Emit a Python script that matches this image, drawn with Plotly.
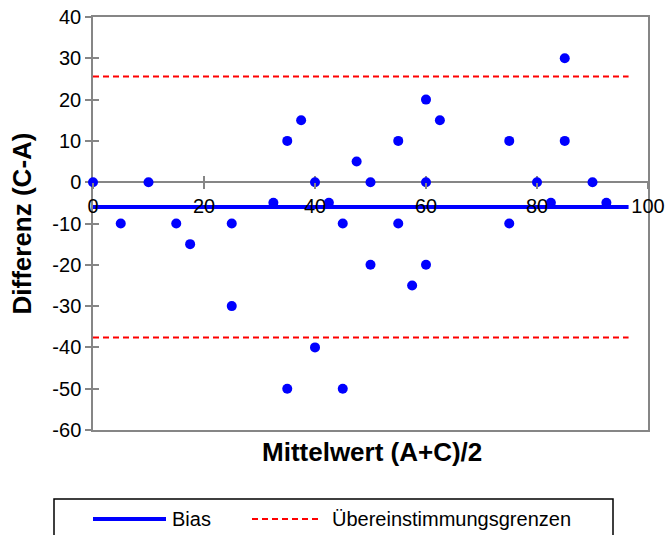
import plotly.graph_objects as go

# ---- data ----
mean_x = [0, 5, 10, 15, 17.5, 25, 25, 32.5, 35, 37.5, 35, 40, 40, 42.5, 45, 45, 47.5,
          50, 50, 55, 55, 57.5, 60, 60, 60, 62.5, 75, 75, 80, 82.5, 85, 85, 90, 92.5]
diff_y = [0, -10, 0, -10, -15, -10, -30, -5, 10, 15, -50, 0, -40, -5, -10, -50, 5,
          0, -20, 10, -10, -25, 20, 0, -20, 15, 10, -10, 0, -5, 30, 10, 0, -5]
bias = -6.0
loa_upper = 25.6
loa_lower = -37.6
line_extent = [0, 96.5]
x_ticks = [0, 20, 40, 60, 80, 100]
y_ticks = [-60, -50, -40, -30, -20, -10, 0, 10, 20, 30, 40]

FONT = "Liberation Sans, Arial, sans-serif"
GREY = "#868686"
BLUE = "#0000FF"
RED = "#FF0000"

W, H = 667, 535
ML, MR, MT, MB = 93, 19, 17, 105
PW, PH = W - ML - MR, H - MT - MB


def fx(px):
    return (px - ML) / PW


def fy(py):
    return (H - MB - py) / PH


fig = go.Figure()
fig.add_trace(go.Scatter(x=line_extent, y=[bias, bias], mode="lines",
                         line=dict(color=BLUE, width=4), name="Bias",
                         cliponaxis=False, hoverinfo="skip"))
for v in (loa_upper, loa_lower):
    fig.add_trace(go.Scatter(x=line_extent, y=[v, v], mode="lines",
                             line=dict(color=RED, width=2, dash="6px,4px"),
                             name="Übereinstimmungsgrenzen", hoverinfo="skip"))
fig.add_trace(go.Scatter(x=mean_x, y=diff_y, mode="markers",
                         marker=dict(color=BLUE, size=10, line=dict(width=0)),
                         cliponaxis=False, name="Daten"))

tickfont = dict(family=FONT, size=20, color="black")

fig.update_layout(
    width=W, height=H,
    margin=dict(l=ML, r=MR, t=MT, b=MB, autoexpand=False),
    plot_bgcolor="white", paper_bgcolor="white",
    showlegend=False,
    font=dict(family=FONT, color="black"),
    xaxis=dict(range=[0, 100], anchor="free", position=0.6, showline=False,
               ticks="outside", ticklen=6, tickwidth=1.5, tickcolor=GREY,
               tickvals=x_ticks, ticktext=[str(t) for t in x_ticks],
               tickfont=tickfont, showgrid=False, automargin=False,
               zeroline=False, layer="above traces"),
    xaxis2=dict(range=[0, 100], overlaying="x", anchor="free", position=0.6,
                ticks="inside", ticklen=6, tickwidth=1.5, tickcolor=GREY,
                tickvals=x_ticks, showticklabels=False, showgrid=False,
                zeroline=False, showline=False, automargin=False,
                layer="below traces"),
    xaxis3=dict(range=[0, 100], overlaying="x", anchor="y", side="bottom",
                showline=True, mirror=True, linecolor=GREY, linewidth=1.5,
                ticks="", showticklabels=False, showgrid=False, zeroline=False,
                layer="below traces", automargin=False),
    yaxis=dict(range=[-60, 40], tickvals=y_ticks,
               ticktext=[str(t) for t in y_ticks], ticks="outside", ticklen=6,
               tickwidth=1.5, tickcolor=GREY, tickfont=tickfont,
               showline=True, mirror=True, linecolor=GREY, linewidth=1.5,
               zeroline=True, zerolinecolor=GREY, zerolinewidth=1.5,
               showgrid=False, layer="below traces", automargin=False),
    yaxis2=dict(range=[-60, 40], overlaying="y", anchor="x", side="left",
                tickvals=y_ticks, ticks="inside", ticklen=6, tickwidth=1.5,
                tickcolor=GREY, showticklabels=False, showgrid=False,
                zeroline=False, showline=False, automargin=False,
                layer="below traces"),
)

# invisible helpers so the overlay axes are drawn
fig.add_trace(go.Scatter(x=[None], y=[None], xaxis="x2", yaxis="y", showlegend=False))
fig.add_trace(go.Scatter(x=[None], y=[None], xaxis="x3", yaxis="y", showlegend=False))
fig.add_trace(go.Scatter(x=[None], y=[None], xaxis="x", yaxis="y2", showlegend=False))

# axis titles
fig.add_annotation(text="<b>Mittelwert (A+C)/2</b>", xref="paper", yref="paper",
                   x=fx(372), y=fy(452), xanchor="center", yanchor="middle",
                   showarrow=False, font=dict(family=FONT, size=26, color="black"))
fig.add_annotation(text="<b>Differenz (C-A)</b>", xref="paper", yref="paper",
                   x=fx(21), y=0.5, xanchor="center", yanchor="middle",
                   textangle=-90, showarrow=False,
                   font=dict(family=FONT, size=26, color="black"))

# legend (drawn manually to match the reference layout)
leg_y = fy(519)
fig.add_shape(type="rect", xref="paper", yref="paper", x0=fx(54), x1=fx(613),
              y0=fy(540), y1=fy(499), line=dict(color="black", width=1.5),
              fillcolor="white", layer="above")
fig.add_shape(type="line", xref="paper", yref="paper", x0=fx(93), x1=fx(166),
              y0=leg_y, y1=leg_y, line=dict(color=BLUE, width=4))
fig.add_shape(type="line", xref="paper", yref="paper", x0=fx(252), x1=fx(319),
              y0=leg_y, y1=leg_y, line=dict(color=RED, width=2, dash="6px,4px"))
fig.add_annotation(text="Bias", xref="paper", yref="paper", x=fx(170), y=leg_y,
                   xanchor="left", yanchor="middle", showarrow=False,
                   font=dict(family=FONT, size=20, color="black"))
fig.add_annotation(text="Übereinstimmungsgrenzen", xref="paper", yref="paper",
                   x=fx(330), y=leg_y, xanchor="left", yanchor="middle",
                   showarrow=False, font=dict(family=FONT, size=20, color="black"))

fig.write_html("out.html",
               config={"displayModeBar": False},
               post_script="document.body.style.margin='0px';"
                           "document.body.style.overflow='hidden';")
